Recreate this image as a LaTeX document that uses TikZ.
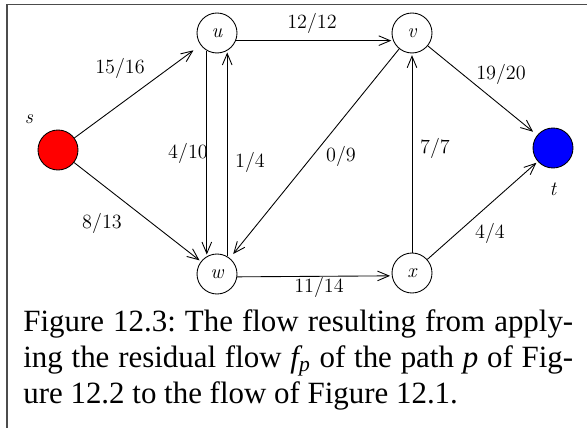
\documentclass[tikz,border=0pt]{standalone}
\usepackage{fontspec}
\newfontfamily\capfont{Liberation Serif}
\usetikzlibrary{arrows.meta}

\begin{document}
\begin{tikzpicture}[x=0.02cm,y=-0.02cm,
  vertex/.style={circle,draw,line width=0.5pt,minimum size=0.8cm,inner sep=0pt,font=\fontsize{11.5}{14}\selectfont\itshape},
  flow/.style={-{Straight Barb[length=6.5pt,width=5.5pt]},line width=0.5pt,shorten >=1pt},
  lbl/.style={font=\fontsize{11.5}{14}\selectfont}]
  \useasboundingbox (0,0) rectangle (587,428);

  % Frame (top and left edges only)
  \draw[gray!60!black, line width=0.8pt] (7,428) -- (7,4.5) -- (587,4.5);

  % Vertices
  \node[vertex,fill=red] (s) at (58,150) {};
  \node[vertex,fill=blue] (t) at (553,148) {};
  \node[vertex] (u) at (217,33) {u};
  \node[vertex] (v) at (412,33) {v};
  \node[vertex] (w) at (217,274) {w};
  \node[vertex] (x) at (412,273) {x};

  % Names of source and sink
  \node[lbl,font=\fontsize{11.5}{14}\selectfont\itshape] (sname) at (29,119) {s};
  \node[lbl,font=\fontsize{11.5}{14}\selectfont\itshape] (tname) at (553,189) {t};

  % Edges
  \draw[flow,shorten >=5pt] (s) -- (u);
  \draw[flow] (s) -- (w);
  \draw[flow] (u.-22) -- (v.202);
  \draw[flow] (u.240) -- (w.120);
  \draw[flow] (w.60) -- (u.300);
  \draw[flow,shorten >=3pt] (v) -- (w);
  \draw[flow,shorten >=3pt] (v) -- (t);
  \draw[flow] (x) -- (v);
  \draw[flow] (x) -- (t);
  \draw[flow] (w.-8) -- (x.188);

  % Flow / capacity labels
  \node[lbl] (fsu) at (120,68) {15/16};
  \node[lbl] (fuv) at (312,23) {12/12};
  \node[lbl] (fvt) at (501,74) {19/20};
  \node[lbl] (fuw) at (188,153) {4/10};
  \node[lbl] (fwu) at (250,162) {1/4};
  \node[lbl] (fsw) at (102,223) {8/13};
  \node[lbl] (fvw) at (341,156) {0/9};
  \node[lbl] (fxv) at (435,148) {7/7};
  \node[lbl] (fxt) at (490,233) {4/4};
  \node[lbl] (fwx) at (319,287) {11/14};

  % Caption
  \node[anchor=base west,text width=11cm,align=justify,inner sep=0pt,
    font=\capfont\fontsize{17.6}{20.5}\selectfont\frenchspacing] (caption) at (23,331)
    {Figure 12.3: The flow resulting from apply-\linebreak ing the residual flow {\itshape f}\textsubscript{\itshape p} of the path {\itshape p} of Fig-\linebreak ure 12.2 to the flow of Figure 12.1.};
\end{tikzpicture}
\end{document}
